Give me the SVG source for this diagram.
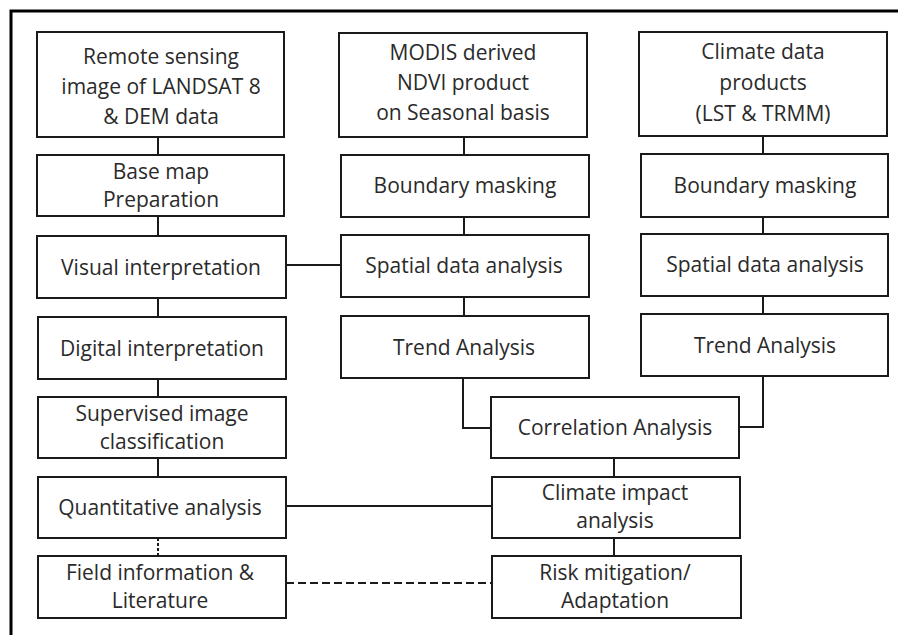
<svg xmlns="http://www.w3.org/2000/svg" width="898" height="635" viewBox="0 0 898 635">
<style>
.box{fill:#fff;stroke:#1a1a1a;stroke-width:2}
.t{font-family:"Open Sans","Noto Sans","Liberation Sans",sans-serif;font-size:21px;fill:#2a2a2a;text-anchor:middle}
.c{fill:none;stroke:#1a1a1a;stroke-width:2}
.d{fill:none;stroke:#1a1a1a;stroke-width:2;stroke-dasharray:8 4}
.d2{fill:none;stroke:#1a1a1a;stroke-width:2;stroke-dasharray:3 2}
.frame{fill:none;stroke:#000;stroke-width:3}
</style>
<rect width="898" height="635" fill="#fff"/>
<path class="frame" d="M11,635 V11 H898"/>
<g id="connectors">
<path class="c" d="M158,137 V155 M158,216 V236 M158,298 V317 M158,379 V397 M158,458 V477"/>
<path class="d2" d="M158,538 V556"/>
<path class="c" d="M464,137 V155 M464,217 V235 M464,297 V316"/>
<path class="c" d="M763,136 V154 M763,217 V234 M763,296 V314"/>
<path class="c" d="M286,265 H341"/>
<path class="c" d="M463,378 V428 H491"/>
<path class="c" d="M763,376 V427 H740"/>
<path class="c" d="M614,458 V477 M614,538 V556"/>
<path class="c" d="M286,506 H492"/>
<path class="d" d="M286,583 H492"/>
</g>
<g id="n1"><rect class="box" x="37" y="32" width="247" height="105"/>
<text class="t" x="161" y="64">Remote sensing</text><text class="t" x="161" y="94">image of LANDSAT 8</text><text class="t" x="161" y="124">&amp; DEM data</text></g>
<g id="n2"><rect class="box" x="37" y="155" width="247" height="61"/>
<text class="t" x="161" y="179">Base map</text><text class="t" x="161" y="207">Preparation</text></g>
<g id="n3"><rect class="box" x="37" y="236" width="249" height="62"/>
<text class="t" x="161" y="275">Visual interpretation</text></g>
<g id="n4"><rect class="box" x="38" y="317" width="248" height="62"/>
<text class="t" x="162" y="356">Digital interpretation</text></g>
<g id="n5"><rect class="box" x="38" y="397" width="248" height="61"/>
<text class="t" x="162" y="421">Supervised image</text><text class="t" x="162" y="449">classification</text></g>
<g id="n6"><rect class="box" x="38" y="477" width="248" height="61"/>
<text class="t" x="160" y="515">Quantitative analysis</text></g>
<g id="n7"><rect class="box" x="38" y="556" width="248" height="62"/>
<text class="t" x="160" y="580">Field information &amp;</text><text class="t" x="160" y="608">Literature</text></g>
<g id="n8"><rect class="box" x="339" y="33" width="248" height="104"/>
<text class="t" x="463" y="60">MODIS derived</text><text class="t" x="463" y="90">NDVI product</text><text class="t" x="463" y="120">on Seasonal basis</text></g>
<g id="n9"><rect class="box" x="341" y="155" width="248" height="62"/>
<text class="t" x="465" y="193">Boundary masking</text></g>
<g id="n10"><rect class="box" x="341" y="235" width="248" height="62"/>
<text class="t" x="464" y="273">Spatial data analysis</text></g>
<g id="n11"><rect class="box" x="341" y="316" width="248" height="62"/>
<text class="t" x="464" y="355">Trend Analysis</text></g>
<g id="n12"><rect class="box" x="639" y="32" width="248" height="104"/>
<text class="t" x="763" y="59">Climate data</text><text class="t" x="763" y="90">products</text><text class="t" x="763" y="121">(LST &amp; TRMM)</text></g>
<g id="n13"><rect class="box" x="641" y="154" width="247" height="63"/>
<text class="t" x="765" y="193">Boundary masking</text></g>
<g id="n14"><rect class="box" x="641" y="234" width="247" height="62"/>
<text class="t" x="765" y="272">Spatial data analysis</text></g>
<g id="n15"><rect class="box" x="641" y="314" width="247" height="62"/>
<text class="t" x="765" y="353">Trend Analysis</text></g>
<g id="n16"><rect class="box" x="491" y="397" width="248" height="61"/>
<text class="t" x="615" y="435">Correlation Analysis</text></g>
<g id="n17"><rect class="box" x="492" y="477" width="248" height="61"/>
<text class="t" x="615" y="500">Climate impact</text><text class="t" x="615" y="528">analysis</text></g>
<g id="n18"><rect class="box" x="492" y="556" width="249" height="62"/>
<text class="t" x="615" y="580">Risk mitigation/</text><text class="t" x="615" y="608">Adaptation</text></g>
</svg>
